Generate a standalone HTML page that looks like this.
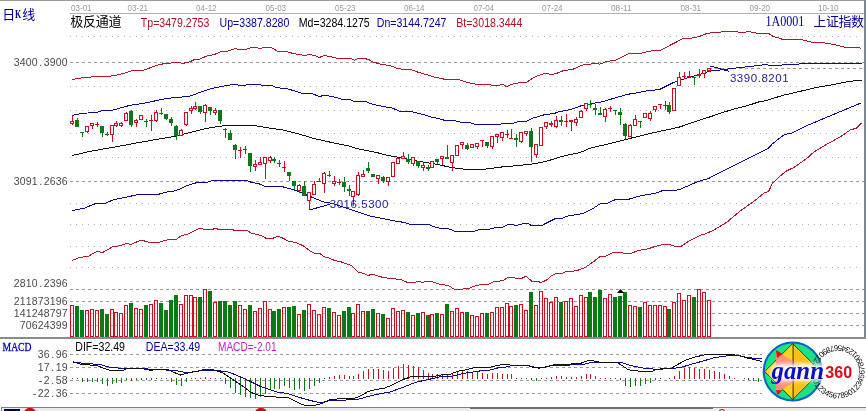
<!DOCTYPE html><html><head><meta charset="utf-8"><title>chart</title><style>html,body{margin:0;padding:0;background:#fff;width:866px;height:411px;overflow:hidden}</style></head><body><svg width="866" height="411" viewBox="0 0 866 411" style="position:absolute;left:0;top:0;filter:blur(0.35px)">
<rect width="866" height="411" fill="#fff"/>
<g shape-rendering="crispEdges">
<rect x="0" y="0" width="866" height="1" fill="#9a9a9a"/>
<rect x="70" y="13" width="794" height="1" fill="#b0b0b0"/>
<rect x="864" y="0" width="2" height="338" fill="#7a8894"/>
<rect x="0" y="337" width="866" height="2" fill="#8a8a8a"/>
<rect x="1" y="407" width="865" height="4" fill="#ececec"/>
<rect x="1" y="407" width="865" height="1" fill="#808080"/>
<rect x="1" y="407" width="1" height="4" fill="#808080"/>
<rect x="470" y="407" width="243" height="2" fill="#707070"/>
<rect x="4" y="409" width="16" height="2" fill="#000040"/>
</g>
<circle cx="30" cy="414" r="6.3" fill="#e00000"/><circle cx="261" cy="414" r="6.3" fill="#e00000"/><circle cx="722" cy="412.5" r="3" fill="none" stroke="#c00000" stroke-width="1"/>
<g shape-rendering="crispEdges">
<line x1="70" x2="862" y1="36.5" y2="36.5" stroke="#b0b0b4" stroke-width="1" stroke-dasharray="1 5"/>
<line x1="70" x2="862" y1="86.5" y2="86.5" stroke="#b0b0b4" stroke-width="1" stroke-dasharray="1 5"/>
<line x1="70" x2="862" y1="110.5" y2="110.5" stroke="#b0b0b4" stroke-width="1" stroke-dasharray="1 5"/>
<line x1="70" x2="862" y1="133.5" y2="133.5" stroke="#b0b0b4" stroke-width="1" stroke-dasharray="1 5"/>
<line x1="70" x2="862" y1="157.5" y2="157.5" stroke="#b0b0b4" stroke-width="1" stroke-dasharray="1 5"/>
<line x1="70" x2="862" y1="203.5" y2="203.5" stroke="#b0b0b4" stroke-width="1" stroke-dasharray="1 5"/>
<line x1="70" x2="862" y1="224.5" y2="224.5" stroke="#b0b0b4" stroke-width="1" stroke-dasharray="1 5"/>
<line x1="70" x2="862" y1="246.5" y2="246.5" stroke="#b0b0b4" stroke-width="1" stroke-dasharray="1 5"/>
<line x1="70" x2="862" y1="267.5" y2="267.5" stroke="#b0b0b4" stroke-width="1" stroke-dasharray="1 5"/>
<line x1="70" x2="864" y1="62.5" y2="62.5" stroke="#989898" stroke-width="1" stroke-dasharray="3 3"/>
<line x1="70" x2="864" y1="181.5" y2="181.5" stroke="#989898" stroke-width="1" stroke-dasharray="3 3"/>
<line x1="70" x2="864" y1="289.5" y2="289.5" stroke="#989898" stroke-width="1" stroke-dasharray="3 3"/>
<line x1="70" x2="864" y1="301.5" y2="301.5" stroke="#989898" stroke-width="1" stroke-dasharray="3 3"/>
<line x1="70" x2="864" y1="354.5" y2="354.5" stroke="#989898" stroke-width="1" stroke-dasharray="3 3"/>
<line x1="70" x2="864" y1="367.5" y2="367.5" stroke="#989898" stroke-width="1" stroke-dasharray="3 3"/>
<line x1="70" x2="864" y1="380.5" y2="380.5" stroke="#989898" stroke-width="1" stroke-dasharray="3 3"/>
<line x1="70" x2="864" y1="393.5" y2="393.5" stroke="#989898" stroke-width="1" stroke-dasharray="3 3"/>
<line x1="712" x2="864" y1="313.5" y2="313.5" stroke="#989898" stroke-width="1" stroke-dasharray="3 3"/>
<line x1="712" x2="864" y1="325.5" y2="325.5" stroke="#989898" stroke-width="1" stroke-dasharray="3 3"/>
<line x1="709" x2="864" y1="68.5" y2="68.5" stroke="#989898" stroke-width="1" stroke-dasharray="3 3"/>
</g>
<polyline fill="none" stroke="#b01828" stroke-width="1.0" shape-rendering="crispEdges"  points="72.2,79.4 84.7,77.4 99.7,76.5 113.4,75.9 124.6,73.2 133.3,70.3 143.3,70.3 153.3,66.6 160.8,64.1 168.2,63.7 174.0,62.4 179.0,62.4 182.7,63.4 190.2,61.8 194.0,59.7 200.2,59.0 206.4,56.2 213.9,54.7 221.4,51.5 227.6,51.2 235.1,48.5 238.8,49.4 246.3,49.4 251.3,47.5 256.3,47.5 260.0,48.5 263.8,47.5 271.3,47.5 277.5,51.2 282.0,51.3 287.0,51.6 293.2,53.5 304.4,55.4 309.4,54.5 314.4,55.4 319.4,57.5 324.4,55.4 331.9,57.0 338.1,58.5 350.6,58.5 354.3,60.3 358.1,58.5 368.0,59.1 373.0,62.0 381.8,64.5 390.0,65.6 397.5,68.5 402.5,69.3 410.0,69.3 418.7,72.4 427.4,74.9 434.9,77.2 444.9,79.3 458.6,79.3 464.8,81.8 476.0,84.3 488.5,84.3 492.2,85.5 498.0,85.5 503.0,84.3 506.7,86.8 511.7,84.3 520.4,82.4 526.7,82.2 534.2,77.2 540.4,74.7 546.6,73.1 551.6,74.7 556.6,73.4 562.8,70.9 574.1,68.9 581.5,65.2 589.0,64.3 596.5,63.1 599.6,64.3 606.0,61.6 616.0,60.2 628.4,53.9 642.2,53.0 648.4,51.2 660.9,50.2 670.8,44.9 683.3,38.5 690.8,38.4 700.0,36.2 706.2,33.7 712.4,32.5 719.9,32.5 723.7,31.2 736.1,31.2 738.6,32.5 744.9,32.5 747.4,31.2 751.1,32.1 757.3,33.3 768.6,33.4 773.0,36.3 779.8,38.3 782.3,39.4 800.4,39.4 811.6,42.2 822.8,42.7 832.8,44.3 845.3,47.4 857.8,47.4 861.5,48.4"/>
<polyline fill="none" stroke="#b01828" stroke-width="1.0" shape-rendering="crispEdges"  points="72.2,260.5 79.7,257.4 88.4,256.2 97.2,251.2 102.2,252.7 113.4,246.4 119.6,245.9 127.1,243.1 130.8,244.7 140.8,240.0 149.5,242.4 158.3,242.4 169.5,239.3 174.0,239.5 176.5,239.3 181.5,235.6 187.7,234.3 194.0,230.9 200.2,228.1 203.9,229.3 212.7,229.3 215.1,228.5 218.9,229.3 232.6,229.3 233.9,230.2 246.3,230.2 251.3,233.1 261.3,235.6 266.3,238.4 272.5,238.4 277.5,236.4 282.0,237.7 288.2,241.0 295.7,242.6 303.2,245.7 310.7,251.3 314.4,253.2 319.4,253.2 324.4,256.9 329.4,258.2 334.4,260.4 340.6,261.7 351.8,265.7 358.1,271.9 364.3,273.8 368.0,275.4 373.0,274.1 379.3,276.6 390.0,278.6 400.0,279.3 407.5,282.4 414.9,282.4 418.7,281.2 422.4,282.4 427.4,281.2 431.1,281.4 439.9,284.3 448.6,285.5 452.3,288.0 454.8,289.3 459.8,289.3 468.6,288.4 477.3,285.1 488.5,284.3 493.5,281.8 498.0,281.1 503.0,280.9 508.0,277.2 513.0,277.2 515.5,278.4 521.7,278.4 526.0,276.2 531.7,281.1 537.9,281.4 541.0,282.6 546.6,280.1 551.6,275.5 556.6,273.4 562.8,273.0 566.6,271.2 572.8,271.2 579.0,269.9 585.3,267.4 592.8,262.2 600.2,256.5 606.0,256.1 613.5,252.4 619.7,252.2 624.7,253.4 630.9,253.4 638.4,250.5 648.4,248.7 655.9,246.2 664.6,244.3 669.6,244.3 674.6,246.4 680.8,246.4 689.5,240.6 699.5,235.6 705.7,233.7 713.5,230.3 727.4,221.8 739.9,211.2 752.3,202.4 758.0,198.0 763.6,193.3 768.6,191.4 772.5,183.2 776.0,180.0 780.2,176.0 785.6,171.5 794.5,167.1 802.9,161.2 808.0,157.4 814.1,151.8 827.8,143.7 840.3,136.8 850.3,130.0 856.5,128.1 861.5,123.1"/>
<polyline fill="none" stroke="#0a0a90" stroke-width="1.0" shape-rendering="crispEdges"  points="72.5,115.3 82.2,113.5 98.4,112.0 102.2,110.3 113.4,110.0 129.6,105.4 145.8,102.9 163.3,99.1 174.0,97.6 184.0,96.9 190.2,96.0 203.9,91.0 211.4,88.6 223.9,86.1 233.9,84.3 238.8,85.1 245.1,85.1 250.1,84.3 256.3,84.3 261.3,85.1 271.3,85.1 276.2,87.4 282.0,88.4 287.0,88.6 294.5,90.9 302.0,93.4 311.9,93.6 319.4,96.5 324.4,95.3 331.9,96.5 342.5,99.3 350.0,99.3 353.7,101.2 364.9,101.2 372.4,104.3 384.9,106.8 392.3,108.1 399.8,111.2 409.8,111.2 424.8,114.9 429.8,116.8 438.0,118.4 445.5,120.6 454.2,120.6 462.9,122.7 470.4,122.7 475.4,124.7 499.1,124.7 502.8,123.4 512.8,123.4 519.0,121.4 526.5,121.2 532.8,118.1 537.8,116.8 546.0,114.2 553.5,113.8 558.5,111.9 570.9,109.4 580.9,105.9 593.4,103.2 602.1,101.9 610.8,99.2 620.8,96.3 628.3,94.2 638.3,92.6 648.2,90.5 654.0,90.1 660.0,89.3 672.5,83.0 685.0,78.7 697.4,75.0 709.9,71.2 722.3,69.7 734.8,68.1 747.3,66.8 758.0,65.5 765.5,64.6 771.7,65.5 790.0,64.6 815.0,63.0 861.5,63.0"/>
<polyline fill="none" stroke="#0a0a90" stroke-width="1.0" shape-rendering="crispEdges"  points="72.2,210.5 84.7,208.0 95.9,203.4 105.9,203.0 113.4,199.7 125.9,197.2 139.6,194.3 158.3,194.3 168.2,191.8 174.0,191.0 179.0,189.3 186.5,185.9 196.4,182.7 207.7,182.2 213.9,180.2 246.3,180.2 251.3,182.4 258.8,183.7 265.0,186.4 282.0,186.6 294.5,190.0 309.5,196.2 323.0,201.8 333.4,203.7 342.0,206.8 355.9,211.2 370.8,216.2 392.0,220.5 404.0,222.4 411.5,224.7 429.0,224.7 434.0,226.8 440.2,228.4 447.6,228.4 455.1,231.4 473.8,231.4 480.1,229.3 488.8,229.3 496.3,227.4 502.5,227.2 507.5,224.7 512.0,224.4 515.7,225.5 524.5,223.4 527.6,223.4 530.7,225.1 542.5,225.1 555.6,218.4 561.9,218.4 566.9,216.2 583.1,213.4 591.8,209.3 600.5,203.5 606.8,203.5 615.5,199.5 627.5,199.6 638.7,196.2 656.2,193.0 663.6,190.2 676.1,190.2 681.1,188.9 697.3,181.8 708.5,178.5 719.8,172.5 731.2,166.8 747.4,158.7 758.0,153.4 768.6,148.1 772.3,143.9 784.5,134.4 792.0,133.1 806.0,126.0 832.8,114.7 861.5,102.8"/>
<polyline fill="none" stroke="#101010" stroke-width="1.0" shape-rendering="crispEdges"  points="72.2,155.5 91.0,151.2 115.9,146.8 140.8,142.2 160.8,138.7 174.0,136.5 186.5,133.4 205.2,128.7 217.6,126.5 228.9,125.3 252.5,125.3 263.8,127.2 282.0,129.8 300.0,134.3 312.5,138.1 331.2,142.4 349.9,146.2 357.4,148.7 377.3,152.7 387.3,155.3 402.7,158.1 421.4,161.8 436.4,164.3 452.6,167.7 465.0,169.3 477.0,169.5 488.0,168.9 503.0,166.8 519.2,165.5 534.1,163.7 546.6,161.2 562.8,156.2 580.3,152.5 590.2,148.1 596.0,146.8 612.4,143.0 629.9,138.4 654.8,132.4 670.0,129.2 680.0,126.9 691.2,122.8 709.9,116.9 722.3,112.6 734.8,108.8 747.3,105.7 759.8,101.6 765.5,100.7 783.0,95.3 799.0,91.6 816.6,87.5 832.8,84.7 850.3,81.2 861.5,80.4"/>
<g shape-rendering="crispEdges">
<rect x="70.5" y="305.5" width="3" height="31" fill="#fff6f6" stroke="#d00a20" stroke-width="1"/>
<rect x="71" y="313" width="2" height="1" fill="#ffa8a8"/>
<rect x="71" y="325" width="2" height="1" fill="#ffa8a8"/>
<rect x="75" y="306" width="4" height="31" fill="#0a7a14"/>
<rect x="80" y="310" width="4" height="27" fill="#0a7a14"/>
<rect x="85.5" y="310.5" width="3" height="26" fill="#fff6f6" stroke="#d00a20" stroke-width="1"/>
<rect x="86" y="313" width="2" height="1" fill="#ffa8a8"/>
<rect x="86" y="325" width="2" height="1" fill="#ffa8a8"/>
<rect x="90.5" y="309.5" width="3" height="27" fill="#fff6f6" stroke="#d00a20" stroke-width="1"/>
<rect x="91" y="313" width="2" height="1" fill="#ffa8a8"/>
<rect x="91" y="325" width="2" height="1" fill="#ffa8a8"/>
<rect x="95.5" y="310.5" width="3" height="26" fill="#fff6f6" stroke="#d00a20" stroke-width="1"/>
<rect x="96" y="313" width="2" height="1" fill="#ffa8a8"/>
<rect x="96" y="325" width="2" height="1" fill="#ffa8a8"/>
<rect x="100" y="309" width="4" height="28" fill="#0a7a14"/>
<rect x="105" y="314" width="4" height="23" fill="#0a7a14"/>
<rect x="110.5" y="309.5" width="3" height="27" fill="#fff6f6" stroke="#d00a20" stroke-width="1"/>
<rect x="111" y="313" width="2" height="1" fill="#ffa8a8"/>
<rect x="111" y="325" width="2" height="1" fill="#ffa8a8"/>
<rect x="114.5" y="312.5" width="3" height="24" fill="#fff6f6" stroke="#d00a20" stroke-width="1"/>
<rect x="115" y="325" width="2" height="1" fill="#ffa8a8"/>
<rect x="119.5" y="313.5" width="3" height="23" fill="#fff6f6" stroke="#d00a20" stroke-width="1"/>
<rect x="120" y="325" width="2" height="1" fill="#ffa8a8"/>
<rect x="124.5" y="305.5" width="3" height="31" fill="#fff6f6" stroke="#d00a20" stroke-width="1"/>
<rect x="125" y="313" width="2" height="1" fill="#ffa8a8"/>
<rect x="125" y="325" width="2" height="1" fill="#ffa8a8"/>
<rect x="129" y="303" width="4" height="34" fill="#0a7a14"/>
<rect x="134.5" y="308.5" width="3" height="28" fill="#fff6f6" stroke="#d00a20" stroke-width="1"/>
<rect x="135" y="313" width="2" height="1" fill="#ffa8a8"/>
<rect x="135" y="325" width="2" height="1" fill="#ffa8a8"/>
<rect x="139.5" y="309.5" width="3" height="27" fill="#fff6f6" stroke="#d00a20" stroke-width="1"/>
<rect x="140" y="313" width="2" height="1" fill="#ffa8a8"/>
<rect x="140" y="325" width="2" height="1" fill="#ffa8a8"/>
<rect x="144" y="305" width="4" height="32" fill="#0a7a14"/>
<rect x="149.5" y="304.5" width="3" height="32" fill="#fff6f6" stroke="#d00a20" stroke-width="1"/>
<rect x="150" y="313" width="2" height="1" fill="#ffa8a8"/>
<rect x="150" y="325" width="2" height="1" fill="#ffa8a8"/>
<rect x="154.5" y="300.5" width="3" height="36" fill="#fff6f6" stroke="#d00a20" stroke-width="1"/>
<rect x="155" y="313" width="2" height="1" fill="#ffa8a8"/>
<rect x="155" y="325" width="2" height="1" fill="#ffa8a8"/>
<rect x="159" y="303" width="4" height="34" fill="#0a7a14"/>
<rect x="164" y="310" width="4" height="27" fill="#0a7a14"/>
<rect x="169" y="300" width="4" height="37" fill="#0a7a14"/>
<rect x="174" y="295" width="4" height="42" fill="#0a7a14"/>
<rect x="179.5" y="304.5" width="3" height="32" fill="#fff6f6" stroke="#d00a20" stroke-width="1"/>
<rect x="180" y="313" width="2" height="1" fill="#ffa8a8"/>
<rect x="180" y="325" width="2" height="1" fill="#ffa8a8"/>
<rect x="184.5" y="295.5" width="3" height="41" fill="#fff6f6" stroke="#d00a20" stroke-width="1"/>
<rect x="185" y="301" width="2" height="1" fill="#ffa8a8"/>
<rect x="185" y="313" width="2" height="1" fill="#ffa8a8"/>
<rect x="185" y="325" width="2" height="1" fill="#ffa8a8"/>
<rect x="189.5" y="295.5" width="3" height="41" fill="#fff6f6" stroke="#d00a20" stroke-width="1"/>
<rect x="190" y="301" width="2" height="1" fill="#ffa8a8"/>
<rect x="190" y="313" width="2" height="1" fill="#ffa8a8"/>
<rect x="190" y="325" width="2" height="1" fill="#ffa8a8"/>
<rect x="193.5" y="297.5" width="3" height="39" fill="#fff6f6" stroke="#d00a20" stroke-width="1"/>
<rect x="194" y="301" width="2" height="1" fill="#ffa8a8"/>
<rect x="194" y="313" width="2" height="1" fill="#ffa8a8"/>
<rect x="194" y="325" width="2" height="1" fill="#ffa8a8"/>
<rect x="198" y="297" width="4" height="40" fill="#0a7a14"/>
<rect x="203.5" y="289.5" width="3" height="47" fill="#fff6f6" stroke="#d00a20" stroke-width="1"/>
<rect x="204" y="301" width="2" height="1" fill="#ffa8a8"/>
<rect x="204" y="313" width="2" height="1" fill="#ffa8a8"/>
<rect x="204" y="325" width="2" height="1" fill="#ffa8a8"/>
<rect x="208" y="291" width="4" height="46" fill="#0a7a14"/>
<rect x="213.5" y="302.5" width="3" height="34" fill="#fff6f6" stroke="#d00a20" stroke-width="1"/>
<rect x="214" y="313" width="2" height="1" fill="#ffa8a8"/>
<rect x="214" y="325" width="2" height="1" fill="#ffa8a8"/>
<rect x="218" y="301" width="4" height="36" fill="#0a7a14"/>
<rect x="223" y="301" width="4" height="36" fill="#0a7a14"/>
<rect x="228" y="305" width="4" height="32" fill="#0a7a14"/>
<rect x="233" y="301" width="4" height="36" fill="#0a7a14"/>
<rect x="238.5" y="305.5" width="3" height="31" fill="#fff6f6" stroke="#d00a20" stroke-width="1"/>
<rect x="239" y="313" width="2" height="1" fill="#ffa8a8"/>
<rect x="239" y="325" width="2" height="1" fill="#ffa8a8"/>
<rect x="243.5" y="309.5" width="3" height="27" fill="#fff6f6" stroke="#d00a20" stroke-width="1"/>
<rect x="244" y="313" width="2" height="1" fill="#ffa8a8"/>
<rect x="244" y="325" width="2" height="1" fill="#ffa8a8"/>
<rect x="248" y="305" width="4" height="32" fill="#0a7a14"/>
<rect x="253.5" y="311.5" width="3" height="25" fill="#fff6f6" stroke="#d00a20" stroke-width="1"/>
<rect x="254" y="313" width="2" height="1" fill="#ffa8a8"/>
<rect x="254" y="325" width="2" height="1" fill="#ffa8a8"/>
<rect x="258.5" y="308.5" width="3" height="28" fill="#fff6f6" stroke="#d00a20" stroke-width="1"/>
<rect x="259" y="313" width="2" height="1" fill="#ffa8a8"/>
<rect x="259" y="325" width="2" height="1" fill="#ffa8a8"/>
<rect x="263.5" y="301.5" width="3" height="35" fill="#fff6f6" stroke="#d00a20" stroke-width="1"/>
<rect x="264" y="313" width="2" height="1" fill="#ffa8a8"/>
<rect x="264" y="325" width="2" height="1" fill="#ffa8a8"/>
<rect x="268.5" y="309.5" width="3" height="27" fill="#fff6f6" stroke="#d00a20" stroke-width="1"/>
<rect x="269" y="313" width="2" height="1" fill="#ffa8a8"/>
<rect x="269" y="325" width="2" height="1" fill="#ffa8a8"/>
<rect x="272" y="311" width="4" height="26" fill="#0a7a14"/>
<rect x="277" y="309" width="4" height="28" fill="#0a7a14"/>
<rect x="282.5" y="307.5" width="3" height="29" fill="#fff6f6" stroke="#d00a20" stroke-width="1"/>
<rect x="283" y="313" width="2" height="1" fill="#ffa8a8"/>
<rect x="283" y="325" width="2" height="1" fill="#ffa8a8"/>
<rect x="287" y="307" width="4" height="30" fill="#0a7a14"/>
<rect x="292" y="306" width="4" height="31" fill="#0a7a14"/>
<rect x="297.5" y="314.5" width="3" height="22" fill="#fff6f6" stroke="#d00a20" stroke-width="1"/>
<rect x="298" y="325" width="2" height="1" fill="#ffa8a8"/>
<rect x="302" y="310" width="4" height="27" fill="#0a7a14"/>
<rect x="307.5" y="304.5" width="3" height="32" fill="#fff6f6" stroke="#d00a20" stroke-width="1"/>
<rect x="308" y="313" width="2" height="1" fill="#ffa8a8"/>
<rect x="308" y="325" width="2" height="1" fill="#ffa8a8"/>
<rect x="312.5" y="310.5" width="3" height="26" fill="#fff6f6" stroke="#d00a20" stroke-width="1"/>
<rect x="313" y="313" width="2" height="1" fill="#ffa8a8"/>
<rect x="313" y="325" width="2" height="1" fill="#ffa8a8"/>
<rect x="317.5" y="314.5" width="3" height="22" fill="#fff6f6" stroke="#d00a20" stroke-width="1"/>
<rect x="318" y="325" width="2" height="1" fill="#ffa8a8"/>
<rect x="322.5" y="307.5" width="3" height="29" fill="#fff6f6" stroke="#d00a20" stroke-width="1"/>
<rect x="323" y="313" width="2" height="1" fill="#ffa8a8"/>
<rect x="323" y="325" width="2" height="1" fill="#ffa8a8"/>
<rect x="327" y="308" width="4" height="29" fill="#0a7a14"/>
<rect x="332.5" y="312.5" width="3" height="24" fill="#fff6f6" stroke="#d00a20" stroke-width="1"/>
<rect x="333" y="325" width="2" height="1" fill="#ffa8a8"/>
<rect x="337.5" y="315.5" width="3" height="21" fill="#fff6f6" stroke="#d00a20" stroke-width="1"/>
<rect x="338" y="325" width="2" height="1" fill="#ffa8a8"/>
<rect x="342" y="311" width="4" height="26" fill="#0a7a14"/>
<rect x="347" y="307" width="4" height="30" fill="#0a7a14"/>
<rect x="351.5" y="313.5" width="3" height="23" fill="#fff6f6" stroke="#d00a20" stroke-width="1"/>
<rect x="352" y="325" width="2" height="1" fill="#ffa8a8"/>
<rect x="356.5" y="304.5" width="3" height="32" fill="#fff6f6" stroke="#d00a20" stroke-width="1"/>
<rect x="357" y="313" width="2" height="1" fill="#ffa8a8"/>
<rect x="357" y="325" width="2" height="1" fill="#ffa8a8"/>
<rect x="361.5" y="311.5" width="3" height="25" fill="#fff6f6" stroke="#d00a20" stroke-width="1"/>
<rect x="362" y="313" width="2" height="1" fill="#ffa8a8"/>
<rect x="362" y="325" width="2" height="1" fill="#ffa8a8"/>
<rect x="366" y="311" width="4" height="26" fill="#0a7a14"/>
<rect x="371" y="309" width="4" height="28" fill="#0a7a14"/>
<rect x="376.5" y="313.5" width="3" height="23" fill="#fff6f6" stroke="#d00a20" stroke-width="1"/>
<rect x="377" y="325" width="2" height="1" fill="#ffa8a8"/>
<rect x="381" y="314" width="4" height="23" fill="#0a7a14"/>
<rect x="386.5" y="318.5" width="3" height="18" fill="#fff6f6" stroke="#d00a20" stroke-width="1"/>
<rect x="387" y="325" width="2" height="1" fill="#ffa8a8"/>
<rect x="391.5" y="308.5" width="3" height="28" fill="#fff6f6" stroke="#d00a20" stroke-width="1"/>
<rect x="392" y="313" width="2" height="1" fill="#ffa8a8"/>
<rect x="392" y="325" width="2" height="1" fill="#ffa8a8"/>
<rect x="396.5" y="311.5" width="3" height="25" fill="#fff6f6" stroke="#d00a20" stroke-width="1"/>
<rect x="397" y="313" width="2" height="1" fill="#ffa8a8"/>
<rect x="397" y="325" width="2" height="1" fill="#ffa8a8"/>
<rect x="401.5" y="310.5" width="3" height="26" fill="#fff6f6" stroke="#d00a20" stroke-width="1"/>
<rect x="402" y="313" width="2" height="1" fill="#ffa8a8"/>
<rect x="402" y="325" width="2" height="1" fill="#ffa8a8"/>
<rect x="406" y="312" width="4" height="25" fill="#0a7a14"/>
<rect x="411.5" y="315.5" width="3" height="21" fill="#fff6f6" stroke="#d00a20" stroke-width="1"/>
<rect x="412" y="325" width="2" height="1" fill="#ffa8a8"/>
<rect x="416" y="313" width="4" height="24" fill="#0a7a14"/>
<rect x="421.5" y="312.5" width="3" height="24" fill="#fff6f6" stroke="#d00a20" stroke-width="1"/>
<rect x="422" y="325" width="2" height="1" fill="#ffa8a8"/>
<rect x="426" y="315" width="4" height="22" fill="#0a7a14"/>
<rect x="430.5" y="314.5" width="3" height="22" fill="#fff6f6" stroke="#d00a20" stroke-width="1"/>
<rect x="431" y="325" width="2" height="1" fill="#ffa8a8"/>
<rect x="435" y="313" width="4" height="24" fill="#0a7a14"/>
<rect x="440.5" y="314.5" width="3" height="22" fill="#fff6f6" stroke="#d00a20" stroke-width="1"/>
<rect x="441" y="325" width="2" height="1" fill="#ffa8a8"/>
<rect x="445" y="304" width="4" height="33" fill="#0a7a14"/>
<rect x="450.5" y="311.5" width="3" height="25" fill="#fff6f6" stroke="#d00a20" stroke-width="1"/>
<rect x="451" y="313" width="2" height="1" fill="#ffa8a8"/>
<rect x="451" y="325" width="2" height="1" fill="#ffa8a8"/>
<rect x="455.5" y="308.5" width="3" height="28" fill="#fff6f6" stroke="#d00a20" stroke-width="1"/>
<rect x="456" y="313" width="2" height="1" fill="#ffa8a8"/>
<rect x="456" y="325" width="2" height="1" fill="#ffa8a8"/>
<rect x="460.5" y="312.5" width="3" height="24" fill="#fff6f6" stroke="#d00a20" stroke-width="1"/>
<rect x="461" y="325" width="2" height="1" fill="#ffa8a8"/>
<rect x="465" y="312" width="4" height="25" fill="#0a7a14"/>
<rect x="470.5" y="315.5" width="3" height="21" fill="#fff6f6" stroke="#d00a20" stroke-width="1"/>
<rect x="471" y="325" width="2" height="1" fill="#ffa8a8"/>
<rect x="475.5" y="316.5" width="3" height="20" fill="#fff6f6" stroke="#d00a20" stroke-width="1"/>
<rect x="476" y="325" width="2" height="1" fill="#ffa8a8"/>
<rect x="480.5" y="313.5" width="3" height="23" fill="#fff6f6" stroke="#d00a20" stroke-width="1"/>
<rect x="481" y="325" width="2" height="1" fill="#ffa8a8"/>
<rect x="485" y="313" width="4" height="24" fill="#0a7a14"/>
<rect x="490.5" y="312.5" width="3" height="24" fill="#fff6f6" stroke="#d00a20" stroke-width="1"/>
<rect x="491" y="325" width="2" height="1" fill="#ffa8a8"/>
<rect x="495.5" y="307.5" width="3" height="29" fill="#fff6f6" stroke="#d00a20" stroke-width="1"/>
<rect x="496" y="313" width="2" height="1" fill="#ffa8a8"/>
<rect x="496" y="325" width="2" height="1" fill="#ffa8a8"/>
<rect x="500.5" y="307.5" width="3" height="29" fill="#fff6f6" stroke="#d00a20" stroke-width="1"/>
<rect x="501" y="313" width="2" height="1" fill="#ffa8a8"/>
<rect x="501" y="325" width="2" height="1" fill="#ffa8a8"/>
<rect x="505.5" y="303.5" width="3" height="33" fill="#fff6f6" stroke="#d00a20" stroke-width="1"/>
<rect x="506" y="313" width="2" height="1" fill="#ffa8a8"/>
<rect x="506" y="325" width="2" height="1" fill="#ffa8a8"/>
<rect x="509.5" y="306.5" width="3" height="30" fill="#fff6f6" stroke="#d00a20" stroke-width="1"/>
<rect x="510" y="313" width="2" height="1" fill="#ffa8a8"/>
<rect x="510" y="325" width="2" height="1" fill="#ffa8a8"/>
<rect x="514" y="305" width="4" height="32" fill="#0a7a14"/>
<rect x="519.5" y="304.5" width="3" height="32" fill="#fff6f6" stroke="#d00a20" stroke-width="1"/>
<rect x="520" y="313" width="2" height="1" fill="#ffa8a8"/>
<rect x="520" y="325" width="2" height="1" fill="#ffa8a8"/>
<rect x="524.5" y="310.5" width="3" height="26" fill="#fff6f6" stroke="#d00a20" stroke-width="1"/>
<rect x="525" y="313" width="2" height="1" fill="#ffa8a8"/>
<rect x="525" y="325" width="2" height="1" fill="#ffa8a8"/>
<rect x="529" y="292" width="4" height="45" fill="#0a7a14"/>
<rect x="534.5" y="305.5" width="3" height="31" fill="#fff6f6" stroke="#d00a20" stroke-width="1"/>
<rect x="535" y="313" width="2" height="1" fill="#ffa8a8"/>
<rect x="535" y="325" width="2" height="1" fill="#ffa8a8"/>
<rect x="539.5" y="291.5" width="3" height="45" fill="#fff6f6" stroke="#d00a20" stroke-width="1"/>
<rect x="540" y="301" width="2" height="1" fill="#ffa8a8"/>
<rect x="540" y="313" width="2" height="1" fill="#ffa8a8"/>
<rect x="540" y="325" width="2" height="1" fill="#ffa8a8"/>
<rect x="544.5" y="298.5" width="3" height="38" fill="#fff6f6" stroke="#d00a20" stroke-width="1"/>
<rect x="545" y="301" width="2" height="1" fill="#ffa8a8"/>
<rect x="545" y="313" width="2" height="1" fill="#ffa8a8"/>
<rect x="545" y="325" width="2" height="1" fill="#ffa8a8"/>
<rect x="549.5" y="302.5" width="3" height="34" fill="#fff6f6" stroke="#d00a20" stroke-width="1"/>
<rect x="550" y="313" width="2" height="1" fill="#ffa8a8"/>
<rect x="550" y="325" width="2" height="1" fill="#ffa8a8"/>
<rect x="554.5" y="297.5" width="3" height="39" fill="#fff6f6" stroke="#d00a20" stroke-width="1"/>
<rect x="555" y="301" width="2" height="1" fill="#ffa8a8"/>
<rect x="555" y="313" width="2" height="1" fill="#ffa8a8"/>
<rect x="555" y="325" width="2" height="1" fill="#ffa8a8"/>
<rect x="559" y="302" width="4" height="35" fill="#0a7a14"/>
<rect x="564.5" y="301.5" width="3" height="35" fill="#fff6f6" stroke="#d00a20" stroke-width="1"/>
<rect x="565" y="313" width="2" height="1" fill="#ffa8a8"/>
<rect x="565" y="325" width="2" height="1" fill="#ffa8a8"/>
<rect x="569.5" y="298.5" width="3" height="38" fill="#fff6f6" stroke="#d00a20" stroke-width="1"/>
<rect x="570" y="301" width="2" height="1" fill="#ffa8a8"/>
<rect x="570" y="313" width="2" height="1" fill="#ffa8a8"/>
<rect x="570" y="325" width="2" height="1" fill="#ffa8a8"/>
<rect x="574.5" y="306.5" width="3" height="30" fill="#fff6f6" stroke="#d00a20" stroke-width="1"/>
<rect x="575" y="313" width="2" height="1" fill="#ffa8a8"/>
<rect x="575" y="325" width="2" height="1" fill="#ffa8a8"/>
<rect x="579.5" y="295.5" width="3" height="41" fill="#fff6f6" stroke="#d00a20" stroke-width="1"/>
<rect x="580" y="301" width="2" height="1" fill="#ffa8a8"/>
<rect x="580" y="313" width="2" height="1" fill="#ffa8a8"/>
<rect x="580" y="325" width="2" height="1" fill="#ffa8a8"/>
<rect x="584.5" y="297.5" width="3" height="39" fill="#fff6f6" stroke="#d00a20" stroke-width="1"/>
<rect x="585" y="301" width="2" height="1" fill="#ffa8a8"/>
<rect x="585" y="313" width="2" height="1" fill="#ffa8a8"/>
<rect x="585" y="325" width="2" height="1" fill="#ffa8a8"/>
<rect x="588" y="292" width="4" height="45" fill="#0a7a14"/>
<rect x="593" y="297" width="4" height="40" fill="#0a7a14"/>
<rect x="598" y="290" width="4" height="47" fill="#0a7a14"/>
<rect x="603.5" y="298.5" width="3" height="38" fill="#fff6f6" stroke="#d00a20" stroke-width="1"/>
<rect x="604" y="301" width="2" height="1" fill="#ffa8a8"/>
<rect x="604" y="313" width="2" height="1" fill="#ffa8a8"/>
<rect x="604" y="325" width="2" height="1" fill="#ffa8a8"/>
<rect x="608.5" y="294.5" width="3" height="42" fill="#fff6f6" stroke="#d00a20" stroke-width="1"/>
<rect x="609" y="301" width="2" height="1" fill="#ffa8a8"/>
<rect x="609" y="313" width="2" height="1" fill="#ffa8a8"/>
<rect x="609" y="325" width="2" height="1" fill="#ffa8a8"/>
<rect x="613" y="297" width="4" height="40" fill="#0a7a14"/>
<rect x="618" y="296" width="4" height="41" fill="#0a7a14"/>
<rect x="623" y="292" width="4" height="45" fill="#0a7a14"/>
<rect x="628.5" y="305.5" width="3" height="31" fill="#fff6f6" stroke="#d00a20" stroke-width="1"/>
<rect x="629" y="313" width="2" height="1" fill="#ffa8a8"/>
<rect x="629" y="325" width="2" height="1" fill="#ffa8a8"/>
<rect x="633.5" y="306.5" width="3" height="30" fill="#fff6f6" stroke="#d00a20" stroke-width="1"/>
<rect x="634" y="313" width="2" height="1" fill="#ffa8a8"/>
<rect x="634" y="325" width="2" height="1" fill="#ffa8a8"/>
<rect x="638" y="307" width="4" height="30" fill="#0a7a14"/>
<rect x="643.5" y="302.5" width="3" height="34" fill="#fff6f6" stroke="#d00a20" stroke-width="1"/>
<rect x="644" y="313" width="2" height="1" fill="#ffa8a8"/>
<rect x="644" y="325" width="2" height="1" fill="#ffa8a8"/>
<rect x="648.5" y="305.5" width="3" height="31" fill="#fff6f6" stroke="#d00a20" stroke-width="1"/>
<rect x="649" y="313" width="2" height="1" fill="#ffa8a8"/>
<rect x="649" y="325" width="2" height="1" fill="#ffa8a8"/>
<rect x="653.5" y="305.5" width="3" height="31" fill="#fff6f6" stroke="#d00a20" stroke-width="1"/>
<rect x="654" y="313" width="2" height="1" fill="#ffa8a8"/>
<rect x="654" y="325" width="2" height="1" fill="#ffa8a8"/>
<rect x="658.5" y="305.5" width="3" height="31" fill="#fff6f6" stroke="#d00a20" stroke-width="1"/>
<rect x="659" y="313" width="2" height="1" fill="#ffa8a8"/>
<rect x="659" y="325" width="2" height="1" fill="#ffa8a8"/>
<rect x="663.5" y="306.5" width="3" height="30" fill="#fff6f6" stroke="#d00a20" stroke-width="1"/>
<rect x="664" y="313" width="2" height="1" fill="#ffa8a8"/>
<rect x="664" y="325" width="2" height="1" fill="#ffa8a8"/>
<rect x="667" y="309" width="4" height="28" fill="#0a7a14"/>
<rect x="672.5" y="302.5" width="3" height="34" fill="#fff6f6" stroke="#d00a20" stroke-width="1"/>
<rect x="673" y="313" width="2" height="1" fill="#ffa8a8"/>
<rect x="673" y="325" width="2" height="1" fill="#ffa8a8"/>
<rect x="677.5" y="293.5" width="3" height="43" fill="#fff6f6" stroke="#d00a20" stroke-width="1"/>
<rect x="678" y="301" width="2" height="1" fill="#ffa8a8"/>
<rect x="678" y="313" width="2" height="1" fill="#ffa8a8"/>
<rect x="678" y="325" width="2" height="1" fill="#ffa8a8"/>
<rect x="682.5" y="300.5" width="3" height="36" fill="#fff6f6" stroke="#d00a20" stroke-width="1"/>
<rect x="683" y="313" width="2" height="1" fill="#ffa8a8"/>
<rect x="683" y="325" width="2" height="1" fill="#ffa8a8"/>
<rect x="687.5" y="295.5" width="3" height="41" fill="#fff6f6" stroke="#d00a20" stroke-width="1"/>
<rect x="688" y="301" width="2" height="1" fill="#ffa8a8"/>
<rect x="688" y="313" width="2" height="1" fill="#ffa8a8"/>
<rect x="688" y="325" width="2" height="1" fill="#ffa8a8"/>
<rect x="692" y="297" width="4" height="40" fill="#0a7a14"/>
<rect x="697.5" y="289.5" width="3" height="47" fill="#fff6f6" stroke="#d00a20" stroke-width="1"/>
<rect x="698" y="301" width="2" height="1" fill="#ffa8a8"/>
<rect x="698" y="313" width="2" height="1" fill="#ffa8a8"/>
<rect x="698" y="325" width="2" height="1" fill="#ffa8a8"/>
<rect x="702.5" y="292.5" width="3" height="44" fill="#fff6f6" stroke="#d00a20" stroke-width="1"/>
<rect x="703" y="301" width="2" height="1" fill="#ffa8a8"/>
<rect x="703" y="313" width="2" height="1" fill="#ffa8a8"/>
<rect x="703" y="325" width="2" height="1" fill="#ffa8a8"/>
<rect x="707.5" y="300.5" width="3" height="36" fill="#fff6f6" stroke="#d00a20" stroke-width="1"/>
<rect x="708" y="313" width="2" height="1" fill="#ffa8a8"/>
<rect x="708" y="325" width="2" height="1" fill="#ffa8a8"/>
</g>
<path d="M620.5 289 L624 293 L617 293Z" fill="#000"/>
<g shape-rendering="crispEdges">
<rect x="72" y="115" width="1" height="6" fill="#d00a20"/>
<rect x="72" y="124" width="1" height="1" fill="#d00a20"/>
<rect x="70.5" y="121.5" width="3" height="2" fill="#fff" stroke="#d00a20" stroke-width="1"/>
<rect x="77" y="118" width="1" height="9" fill="#0a7a14"/>
<rect x="75" y="120" width="4" height="7" fill="#0a7a14"/>
<rect x="82" y="132" width="1" height="5" fill="#0a7a14"/>
<rect x="80" y="132" width="4" height="1" fill="#0a7a14"/>
<rect x="87" y="132" width="1" height="1" fill="#d00a20"/>
<rect x="85.5" y="126.5" width="3" height="5" fill="#fff" stroke="#d00a20" stroke-width="1"/>
<rect x="92" y="126" width="1" height="3" fill="#d00a20"/>
<rect x="90.5" y="123.5" width="3" height="2" fill="#fff" stroke="#d00a20" stroke-width="1"/>
<rect x="97" y="122" width="1" height="5" fill="#d00a20"/>
<rect x="95" y="124" width="4" height="1" fill="#d00a20"/>
<rect x="102" y="126" width="1" height="11" fill="#0a7a14"/>
<rect x="100" y="126" width="4" height="7" fill="#0a7a14"/>
<rect x="107" y="132" width="1" height="4" fill="#0a7a14"/>
<rect x="105" y="134" width="4" height="1" fill="#0a7a14"/>
<rect x="112" y="135" width="1" height="7" fill="#d00a20"/>
<rect x="110.5" y="125.5" width="3" height="9" fill="#fff" stroke="#d00a20" stroke-width="1"/>
<rect x="116" y="121" width="1" height="2" fill="#d00a20"/>
<rect x="116" y="126" width="1" height="1" fill="#d00a20"/>
<rect x="114.5" y="123.5" width="3" height="2" fill="#fff" stroke="#d00a20" stroke-width="1"/>
<rect x="121" y="122" width="1" height="1" fill="#d00a20"/>
<rect x="121" y="126" width="1" height="1" fill="#d00a20"/>
<rect x="119.5" y="123.5" width="3" height="2" fill="#fff" stroke="#d00a20" stroke-width="1"/>
<rect x="126" y="112" width="1" height="1" fill="#d00a20"/>
<rect x="124.5" y="113.5" width="3" height="7" fill="#fff" stroke="#d00a20" stroke-width="1"/>
<rect x="131" y="110" width="1" height="17" fill="#0a7a14"/>
<rect x="129" y="111" width="4" height="14" fill="#0a7a14"/>
<rect x="136" y="119" width="1" height="1" fill="#d00a20"/>
<rect x="136" y="123" width="1" height="4" fill="#d00a20"/>
<rect x="134.5" y="120.5" width="3" height="2" fill="#fff" stroke="#d00a20" stroke-width="1"/>
<rect x="139.5" y="115.5" width="3" height="4" fill="#fff" stroke="#d00a20" stroke-width="1"/>
<rect x="146" y="119" width="1" height="8" fill="#0a7a14"/>
<rect x="144" y="121" width="4" height="1" fill="#0a7a14"/>
<rect x="151" y="115" width="1" height="16" fill="#d00a20"/>
<rect x="149" y="120" width="4" height="1" fill="#d00a20"/>
<rect x="156" y="110" width="1" height="2" fill="#d00a20"/>
<rect x="156" y="121" width="1" height="1" fill="#d00a20"/>
<rect x="154.5" y="112.5" width="3" height="8" fill="#fff" stroke="#d00a20" stroke-width="1"/>
<rect x="161" y="108" width="1" height="7" fill="#0a7a14"/>
<rect x="159" y="113" width="4" height="1" fill="#0a7a14"/>
<rect x="166" y="114" width="1" height="6" fill="#0a7a14"/>
<rect x="164" y="114" width="4" height="5" fill="#0a7a14"/>
<rect x="171" y="117" width="1" height="9" fill="#0a7a14"/>
<rect x="169" y="119" width="4" height="4" fill="#0a7a14"/>
<rect x="176" y="125" width="1" height="15" fill="#0a7a14"/>
<rect x="174" y="126" width="4" height="10" fill="#0a7a14"/>
<rect x="181" y="129" width="1" height="1" fill="#d00a20"/>
<rect x="179.5" y="130.5" width="3" height="5" fill="#fff" stroke="#d00a20" stroke-width="1"/>
<rect x="186" y="125" width="1" height="1" fill="#d00a20"/>
<rect x="184.5" y="112.5" width="3" height="12" fill="#fff" stroke="#d00a20" stroke-width="1"/>
<rect x="191" y="106" width="1" height="2" fill="#d00a20"/>
<rect x="191" y="111" width="1" height="3" fill="#d00a20"/>
<rect x="189.5" y="108.5" width="3" height="2" fill="#fff" stroke="#d00a20" stroke-width="1"/>
<rect x="195" y="102" width="1" height="4" fill="#d00a20"/>
<rect x="195" y="109" width="1" height="1" fill="#d00a20"/>
<rect x="193.5" y="106.5" width="3" height="2" fill="#fff" stroke="#d00a20" stroke-width="1"/>
<rect x="200" y="106" width="1" height="8" fill="#0a7a14"/>
<rect x="198" y="106" width="4" height="6" fill="#0a7a14"/>
<rect x="205" y="104" width="1" height="1" fill="#d00a20"/>
<rect x="205" y="113" width="1" height="9" fill="#d00a20"/>
<rect x="203.5" y="105.5" width="3" height="7" fill="#fff" stroke="#d00a20" stroke-width="1"/>
<rect x="210" y="107" width="1" height="8" fill="#0a7a14"/>
<rect x="208" y="107" width="4" height="4" fill="#0a7a14"/>
<rect x="215" y="108" width="1" height="2" fill="#d00a20"/>
<rect x="215" y="113" width="1" height="2" fill="#d00a20"/>
<rect x="213.5" y="110.5" width="3" height="2" fill="#fff" stroke="#d00a20" stroke-width="1"/>
<rect x="220" y="110" width="1" height="14" fill="#0a7a14"/>
<rect x="218" y="110" width="4" height="11" fill="#0a7a14"/>
<rect x="225" y="128" width="1" height="10" fill="#0a7a14"/>
<rect x="223" y="129" width="4" height="1" fill="#0a7a14"/>
<rect x="230" y="130" width="1" height="10" fill="#0a7a14"/>
<rect x="228" y="133" width="4" height="7" fill="#0a7a14"/>
<rect x="235" y="144" width="1" height="15" fill="#0a7a14"/>
<rect x="233" y="145" width="4" height="5" fill="#0a7a14"/>
<rect x="240" y="147" width="1" height="11" fill="#d00a20"/>
<rect x="238" y="150" width="4" height="1" fill="#d00a20"/>
<rect x="245" y="146" width="1" height="8" fill="#d00a20"/>
<rect x="243" y="149" width="4" height="1" fill="#d00a20"/>
<rect x="250" y="153" width="1" height="19" fill="#0a7a14"/>
<rect x="248" y="153" width="4" height="13" fill="#0a7a14"/>
<rect x="255" y="160" width="1" height="4" fill="#d00a20"/>
<rect x="255" y="167" width="1" height="4" fill="#d00a20"/>
<rect x="253.5" y="164.5" width="3" height="2" fill="#fff" stroke="#d00a20" stroke-width="1"/>
<rect x="260" y="157" width="1" height="5" fill="#d00a20"/>
<rect x="258.5" y="162.5" width="3" height="2" fill="#fff" stroke="#d00a20" stroke-width="1"/>
<rect x="265" y="164" width="1" height="15" fill="#d00a20"/>
<rect x="263.5" y="157.5" width="3" height="6" fill="#fff" stroke="#d00a20" stroke-width="1"/>
<rect x="270" y="156" width="1" height="1" fill="#d00a20"/>
<rect x="270" y="161" width="1" height="2" fill="#d00a20"/>
<rect x="268.5" y="157.5" width="3" height="3" fill="#fff" stroke="#d00a20" stroke-width="1"/>
<rect x="274" y="157" width="1" height="6" fill="#0a7a14"/>
<rect x="272" y="159" width="4" height="2" fill="#0a7a14"/>
<rect x="279" y="160" width="1" height="7" fill="#0a7a14"/>
<rect x="277" y="163" width="4" height="1" fill="#0a7a14"/>
<rect x="284" y="161" width="1" height="11" fill="#d00a20"/>
<rect x="282" y="167" width="4" height="1" fill="#d00a20"/>
<rect x="289" y="172" width="1" height="9" fill="#0a7a14"/>
<rect x="287" y="172" width="4" height="4" fill="#0a7a14"/>
<rect x="294" y="181" width="1" height="9" fill="#0a7a14"/>
<rect x="292" y="181" width="4" height="5" fill="#0a7a14"/>
<rect x="299" y="184" width="1" height="1" fill="#d00a20"/>
<rect x="299" y="191" width="1" height="2" fill="#d00a20"/>
<rect x="297.5" y="185.5" width="3" height="5" fill="#fff" stroke="#d00a20" stroke-width="1"/>
<rect x="304" y="181" width="1" height="15" fill="#0a7a14"/>
<rect x="302" y="186" width="4" height="10" fill="#0a7a14"/>
<rect x="309" y="201" width="1" height="9" fill="#d00a20"/>
<rect x="307.5" y="192.5" width="3" height="8" fill="#fff" stroke="#d00a20" stroke-width="1"/>
<rect x="314" y="181" width="1" height="3" fill="#d00a20"/>
<rect x="312.5" y="184.5" width="3" height="10" fill="#fff" stroke="#d00a20" stroke-width="1"/>
<rect x="319" y="178" width="1" height="4" fill="#d00a20"/>
<rect x="317" y="181" width="4" height="1" fill="#d00a20"/>
<rect x="324" y="172" width="1" height="1" fill="#d00a20"/>
<rect x="324" y="184" width="1" height="9" fill="#d00a20"/>
<rect x="322.5" y="173.5" width="3" height="10" fill="#fff" stroke="#d00a20" stroke-width="1"/>
<rect x="329" y="171" width="1" height="6" fill="#0a7a14"/>
<rect x="327" y="175" width="4" height="1" fill="#0a7a14"/>
<rect x="334" y="176" width="1" height="5" fill="#d00a20"/>
<rect x="334" y="184" width="1" height="2" fill="#d00a20"/>
<rect x="332.5" y="181.5" width="3" height="2" fill="#fff" stroke="#d00a20" stroke-width="1"/>
<rect x="339" y="179" width="1" height="6" fill="#d00a20"/>
<rect x="337" y="182" width="4" height="1" fill="#d00a20"/>
<rect x="344" y="177" width="1" height="15" fill="#0a7a14"/>
<rect x="342" y="182" width="4" height="5" fill="#0a7a14"/>
<rect x="349" y="185" width="1" height="11" fill="#0a7a14"/>
<rect x="347" y="189" width="4" height="2" fill="#0a7a14"/>
<rect x="353" y="197" width="1" height="9" fill="#d00a20"/>
<rect x="351.5" y="191.5" width="3" height="5" fill="#fff" stroke="#d00a20" stroke-width="1"/>
<rect x="358" y="172" width="1" height="3" fill="#d00a20"/>
<rect x="358" y="195" width="1" height="1" fill="#d00a20"/>
<rect x="356.5" y="175.5" width="3" height="19" fill="#fff" stroke="#d00a20" stroke-width="1"/>
<rect x="363" y="170" width="1" height="4" fill="#d00a20"/>
<rect x="361.5" y="174.5" width="3" height="2" fill="#fff" stroke="#d00a20" stroke-width="1"/>
<rect x="368" y="162" width="1" height="11" fill="#0a7a14"/>
<rect x="366" y="168" width="4" height="3" fill="#0a7a14"/>
<rect x="373" y="174" width="1" height="3" fill="#0a7a14"/>
<rect x="371" y="174" width="4" height="3" fill="#0a7a14"/>
<rect x="378" y="179" width="1" height="5" fill="#d00a20"/>
<rect x="376.5" y="175.5" width="3" height="3" fill="#fff" stroke="#d00a20" stroke-width="1"/>
<rect x="383" y="176" width="1" height="7" fill="#0a7a14"/>
<rect x="381" y="177" width="4" height="4" fill="#0a7a14"/>
<rect x="388" y="182" width="1" height="4" fill="#d00a20"/>
<rect x="386.5" y="177.5" width="3" height="4" fill="#fff" stroke="#d00a20" stroke-width="1"/>
<rect x="391.5" y="162.5" width="3" height="14" fill="#fff" stroke="#d00a20" stroke-width="1"/>
<rect x="396.5" y="158.5" width="3" height="5" fill="#fff" stroke="#d00a20" stroke-width="1"/>
<rect x="403" y="152" width="1" height="4" fill="#d00a20"/>
<rect x="401.5" y="156.5" width="3" height="2" fill="#fff" stroke="#d00a20" stroke-width="1"/>
<rect x="408" y="154" width="1" height="10" fill="#0a7a14"/>
<rect x="406" y="159" width="4" height="3" fill="#0a7a14"/>
<rect x="413" y="164" width="1" height="2" fill="#d00a20"/>
<rect x="411.5" y="157.5" width="3" height="6" fill="#fff" stroke="#d00a20" stroke-width="1"/>
<rect x="418" y="161" width="1" height="7" fill="#0a7a14"/>
<rect x="416" y="161" width="4" height="5" fill="#0a7a14"/>
<rect x="423" y="163" width="1" height="2" fill="#d00a20"/>
<rect x="423" y="168" width="1" height="3" fill="#d00a20"/>
<rect x="421.5" y="165.5" width="3" height="2" fill="#fff" stroke="#d00a20" stroke-width="1"/>
<rect x="428" y="165" width="1" height="6" fill="#0a7a14"/>
<rect x="426" y="167" width="4" height="2" fill="#0a7a14"/>
<rect x="430.5" y="161.5" width="3" height="6" fill="#fff" stroke="#d00a20" stroke-width="1"/>
<rect x="437" y="159" width="1" height="5" fill="#0a7a14"/>
<rect x="435" y="159" width="4" height="3" fill="#0a7a14"/>
<rect x="442" y="159" width="1" height="6" fill="#d00a20"/>
<rect x="440.5" y="156.5" width="3" height="2" fill="#fff" stroke="#d00a20" stroke-width="1"/>
<rect x="447" y="145" width="1" height="14" fill="#0a7a14"/>
<rect x="445" y="157" width="4" height="2" fill="#0a7a14"/>
<rect x="452" y="163" width="1" height="8" fill="#d00a20"/>
<rect x="450.5" y="155.5" width="3" height="7" fill="#fff" stroke="#d00a20" stroke-width="1"/>
<rect x="455.5" y="145.5" width="3" height="10" fill="#fff" stroke="#d00a20" stroke-width="1"/>
<rect x="462" y="145" width="1" height="4" fill="#d00a20"/>
<rect x="460.5" y="142.5" width="3" height="2" fill="#fff" stroke="#d00a20" stroke-width="1"/>
<rect x="467" y="143" width="1" height="7" fill="#0a7a14"/>
<rect x="465" y="145" width="4" height="4" fill="#0a7a14"/>
<rect x="470.5" y="144.5" width="3" height="3" fill="#fff" stroke="#d00a20" stroke-width="1"/>
<rect x="477" y="147" width="1" height="2" fill="#d00a20"/>
<rect x="475.5" y="143.5" width="3" height="3" fill="#fff" stroke="#d00a20" stroke-width="1"/>
<rect x="482" y="140" width="1" height="7" fill="#d00a20"/>
<rect x="480" y="140" width="4" height="1" fill="#d00a20"/>
<rect x="487" y="142" width="1" height="6" fill="#0a7a14"/>
<rect x="485" y="142" width="4" height="4" fill="#0a7a14"/>
<rect x="492" y="147" width="1" height="2" fill="#d00a20"/>
<rect x="490.5" y="136.5" width="3" height="10" fill="#fff" stroke="#d00a20" stroke-width="1"/>
<rect x="497" y="137" width="1" height="6" fill="#d00a20"/>
<rect x="495.5" y="134.5" width="3" height="2" fill="#fff" stroke="#d00a20" stroke-width="1"/>
<rect x="502" y="138" width="1" height="3" fill="#d00a20"/>
<rect x="500.5" y="132.5" width="3" height="5" fill="#fff" stroke="#d00a20" stroke-width="1"/>
<rect x="507" y="130" width="1" height="8" fill="#d00a20"/>
<rect x="505" y="134" width="4" height="1" fill="#d00a20"/>
<rect x="511" y="129" width="1" height="10" fill="#d00a20"/>
<rect x="509" y="138" width="4" height="1" fill="#d00a20"/>
<rect x="516" y="134" width="1" height="13" fill="#0a7a14"/>
<rect x="514" y="138" width="4" height="2" fill="#0a7a14"/>
<rect x="521" y="142" width="1" height="1" fill="#d00a20"/>
<rect x="519.5" y="132.5" width="3" height="9" fill="#fff" stroke="#d00a20" stroke-width="1"/>
<rect x="526" y="134" width="1" height="2" fill="#d00a20"/>
<rect x="524.5" y="131.5" width="3" height="2" fill="#fff" stroke="#d00a20" stroke-width="1"/>
<rect x="531" y="128" width="1" height="34" fill="#0a7a14"/>
<rect x="529" y="131" width="4" height="16" fill="#0a7a14"/>
<rect x="536" y="155" width="1" height="3" fill="#d00a20"/>
<rect x="534.5" y="144.5" width="3" height="10" fill="#fff" stroke="#d00a20" stroke-width="1"/>
<rect x="539.5" y="127.5" width="3" height="18" fill="#fff" stroke="#d00a20" stroke-width="1"/>
<rect x="546" y="127" width="1" height="2" fill="#d00a20"/>
<rect x="544.5" y="122.5" width="3" height="4" fill="#fff" stroke="#d00a20" stroke-width="1"/>
<rect x="551" y="121" width="1" height="6" fill="#d00a20"/>
<rect x="549" y="123" width="4" height="2" fill="#d00a20"/>
<rect x="556" y="116" width="1" height="4" fill="#d00a20"/>
<rect x="556" y="127" width="1" height="1" fill="#d00a20"/>
<rect x="554.5" y="120.5" width="3" height="6" fill="#fff" stroke="#d00a20" stroke-width="1"/>
<rect x="561" y="116" width="1" height="10" fill="#0a7a14"/>
<rect x="559" y="120" width="4" height="2" fill="#0a7a14"/>
<rect x="566" y="114" width="1" height="13" fill="#d00a20"/>
<rect x="564" y="121" width="4" height="1" fill="#d00a20"/>
<rect x="571" y="120" width="1" height="11" fill="#d00a20"/>
<rect x="569" y="120" width="4" height="2" fill="#d00a20"/>
<rect x="576" y="117" width="1" height="2" fill="#d00a20"/>
<rect x="576" y="123" width="1" height="3" fill="#d00a20"/>
<rect x="574.5" y="119.5" width="3" height="3" fill="#fff" stroke="#d00a20" stroke-width="1"/>
<rect x="581" y="110" width="1" height="1" fill="#d00a20"/>
<rect x="579.5" y="111.5" width="3" height="6" fill="#fff" stroke="#d00a20" stroke-width="1"/>
<rect x="586" y="109" width="1" height="2" fill="#d00a20"/>
<rect x="584.5" y="103.5" width="3" height="5" fill="#fff" stroke="#d00a20" stroke-width="1"/>
<rect x="590" y="100" width="1" height="8" fill="#0a7a14"/>
<rect x="588" y="104" width="4" height="1" fill="#0a7a14"/>
<rect x="595" y="104" width="1" height="11" fill="#0a7a14"/>
<rect x="593" y="108" width="4" height="2" fill="#0a7a14"/>
<rect x="600" y="107" width="1" height="8" fill="#0a7a14"/>
<rect x="598" y="113" width="4" height="2" fill="#0a7a14"/>
<rect x="605" y="108" width="1" height="1" fill="#d00a20"/>
<rect x="605" y="117" width="1" height="5" fill="#d00a20"/>
<rect x="603.5" y="109.5" width="3" height="7" fill="#fff" stroke="#d00a20" stroke-width="1"/>
<rect x="610" y="106" width="1" height="6" fill="#d00a20"/>
<rect x="608" y="108" width="4" height="1" fill="#d00a20"/>
<rect x="615" y="110" width="1" height="5" fill="#0a7a14"/>
<rect x="613" y="110" width="4" height="1" fill="#0a7a14"/>
<rect x="620" y="108" width="1" height="17" fill="#0a7a14"/>
<rect x="618" y="112" width="4" height="3" fill="#0a7a14"/>
<rect x="625" y="123" width="1" height="16" fill="#0a7a14"/>
<rect x="623" y="124" width="4" height="12" fill="#0a7a14"/>
<rect x="630" y="124" width="1" height="1" fill="#d00a20"/>
<rect x="628.5" y="125.5" width="3" height="11" fill="#fff" stroke="#d00a20" stroke-width="1"/>
<rect x="635" y="115" width="1" height="4" fill="#d00a20"/>
<rect x="633.5" y="119.5" width="3" height="6" fill="#fff" stroke="#d00a20" stroke-width="1"/>
<rect x="640" y="121" width="1" height="7" fill="#0a7a14"/>
<rect x="638" y="121" width="4" height="1" fill="#0a7a14"/>
<rect x="643.5" y="113.5" width="3" height="4" fill="#fff" stroke="#d00a20" stroke-width="1"/>
<rect x="650" y="111" width="1" height="2" fill="#d00a20"/>
<rect x="650" y="119" width="1" height="2" fill="#d00a20"/>
<rect x="648.5" y="113.5" width="3" height="5" fill="#fff" stroke="#d00a20" stroke-width="1"/>
<rect x="655" y="110" width="1" height="2" fill="#d00a20"/>
<rect x="653.5" y="106.5" width="3" height="3" fill="#fff" stroke="#d00a20" stroke-width="1"/>
<rect x="660" y="104" width="1" height="5" fill="#d00a20"/>
<rect x="658" y="104" width="4" height="1" fill="#d00a20"/>
<rect x="665" y="101" width="1" height="9" fill="#d00a20"/>
<rect x="663" y="105" width="4" height="1" fill="#d00a20"/>
<rect x="669" y="102" width="1" height="12" fill="#0a7a14"/>
<rect x="667" y="105" width="4" height="7" fill="#0a7a14"/>
<rect x="672.5" y="88.5" width="3" height="22" fill="#fff" stroke="#d00a20" stroke-width="1"/>
<rect x="679" y="72" width="1" height="5" fill="#d00a20"/>
<rect x="677.5" y="77.5" width="3" height="8" fill="#fff" stroke="#d00a20" stroke-width="1"/>
<rect x="684" y="72" width="1" height="7" fill="#d00a20"/>
<rect x="682" y="76" width="4" height="1" fill="#d00a20"/>
<rect x="689" y="71" width="1" height="7" fill="#d00a20"/>
<rect x="687" y="76" width="4" height="1" fill="#d00a20"/>
<rect x="694" y="77" width="1" height="8" fill="#0a7a14"/>
<rect x="692" y="77" width="4" height="1" fill="#0a7a14"/>
<rect x="699" y="69" width="1" height="9" fill="#d00a20"/>
<rect x="697" y="74" width="4" height="2" fill="#d00a20"/>
<rect x="704" y="74" width="1" height="4" fill="#d00a20"/>
<rect x="702.5" y="70.5" width="3" height="3" fill="#fff" stroke="#d00a20" stroke-width="1"/>
<rect x="709" y="71" width="1" height="1" fill="#d00a20"/>
<rect x="707.5" y="68.5" width="3" height="2" fill="#fff" stroke="#d00a20" stroke-width="1"/>
</g>
<g shape-rendering="crispEdges">
<rect x="72" y="378" width="1" height="1" fill="#0a7a14"/>
<rect x="77" y="378" width="1" height="1" fill="#0a7a14"/>
<rect x="82" y="378" width="1" height="4" fill="#0a7a14"/>
<rect x="87" y="378" width="1" height="4" fill="#0a7a14"/>
<rect x="92" y="378" width="1" height="4" fill="#0a7a14"/>
<rect x="97" y="378" width="1" height="4" fill="#0a7a14"/>
<rect x="102" y="378" width="1" height="6" fill="#0a7a14"/>
<rect x="107" y="378" width="1" height="8" fill="#0a7a14"/>
<rect x="112" y="378" width="1" height="6" fill="#0a7a14"/>
<rect x="116" y="378" width="1" height="5" fill="#0a7a14"/>
<rect x="121" y="378" width="1" height="5" fill="#0a7a14"/>
<rect x="126" y="378" width="1" height="2" fill="#0a7a14"/>
<rect x="131" y="378" width="1" height="3" fill="#0a7a14"/>
<rect x="136" y="378" width="1" height="2" fill="#0a7a14"/>
<rect x="141" y="378" width="1" height="2" fill="#0a7a14"/>
<rect x="146" y="378" width="1" height="2" fill="#0a7a14"/>
<rect x="151" y="378" width="1" height="2" fill="#0a7a14"/>
<rect x="156" y="378" width="1" height="1" fill="#0a7a14"/>
<rect x="161" y="378" width="1" height="1" fill="#0a7a14"/>
<rect x="166" y="378" width="1" height="1" fill="#0a7a14"/>
<rect x="171" y="378" width="1" height="4" fill="#0a7a14"/>
<rect x="176" y="378" width="1" height="7" fill="#0a7a14"/>
<rect x="181" y="378" width="1" height="8" fill="#0a7a14"/>
<rect x="186" y="378" width="1" height="4" fill="#0a7a14"/>
<rect x="191" y="378" width="1" height="1" fill="#0a7a14"/>
<rect x="195" y="378" width="1" height="1" fill="#c8141e"/>
<rect x="200" y="378" width="1" height="1" fill="#c8141e"/>
<rect x="205" y="377" width="1" height="2" fill="#c8141e"/>
<rect x="210" y="378" width="1" height="1" fill="#c8141e"/>
<rect x="215" y="378" width="1" height="1" fill="#c8141e"/>
<rect x="220" y="378" width="1" height="1" fill="#0a7a14"/>
<rect x="225" y="378" width="1" height="6" fill="#0a7a14"/>
<rect x="230" y="378" width="1" height="10" fill="#0a7a14"/>
<rect x="235" y="378" width="1" height="15" fill="#0a7a14"/>
<rect x="240" y="378" width="1" height="17" fill="#0a7a14"/>
<rect x="245" y="378" width="1" height="19" fill="#0a7a14"/>
<rect x="250" y="378" width="1" height="20" fill="#0a7a14"/>
<rect x="255" y="378" width="1" height="21" fill="#0a7a14"/>
<rect x="260" y="378" width="1" height="19" fill="#0a7a14"/>
<rect x="265" y="378" width="1" height="16" fill="#0a7a14"/>
<rect x="270" y="378" width="1" height="12" fill="#0a7a14"/>
<rect x="274" y="378" width="1" height="11" fill="#0a7a14"/>
<rect x="279" y="378" width="1" height="11" fill="#0a7a14"/>
<rect x="284" y="378" width="1" height="8" fill="#0a7a14"/>
<rect x="289" y="378" width="1" height="10" fill="#0a7a14"/>
<rect x="294" y="378" width="1" height="12" fill="#0a7a14"/>
<rect x="299" y="378" width="1" height="11" fill="#0a7a14"/>
<rect x="304" y="378" width="1" height="13" fill="#0a7a14"/>
<rect x="309" y="378" width="1" height="11" fill="#0a7a14"/>
<rect x="314" y="378" width="1" height="8" fill="#0a7a14"/>
<rect x="319" y="378" width="1" height="5" fill="#0a7a14"/>
<rect x="324" y="378" width="1" height="1" fill="#0a7a14"/>
<rect x="329" y="377" width="1" height="2" fill="#c8141e"/>
<rect x="334" y="376" width="1" height="3" fill="#c8141e"/>
<rect x="339" y="375" width="1" height="4" fill="#c8141e"/>
<rect x="344" y="375" width="1" height="4" fill="#c8141e"/>
<rect x="349" y="376" width="1" height="3" fill="#c8141e"/>
<rect x="353" y="376" width="1" height="3" fill="#c8141e"/>
<rect x="358" y="374" width="1" height="5" fill="#c8141e"/>
<rect x="363" y="371" width="1" height="8" fill="#c8141e"/>
<rect x="368" y="369" width="1" height="10" fill="#c8141e"/>
<rect x="373" y="369" width="1" height="10" fill="#c8141e"/>
<rect x="378" y="369" width="1" height="10" fill="#c8141e"/>
<rect x="383" y="370" width="1" height="9" fill="#c8141e"/>
<rect x="388" y="371" width="1" height="8" fill="#c8141e"/>
<rect x="393" y="368" width="1" height="11" fill="#c8141e"/>
<rect x="398" y="366" width="1" height="13" fill="#c8141e"/>
<rect x="403" y="364" width="1" height="15" fill="#c8141e"/>
<rect x="408" y="365" width="1" height="14" fill="#c8141e"/>
<rect x="413" y="366" width="1" height="13" fill="#c8141e"/>
<rect x="418" y="367" width="1" height="12" fill="#c8141e"/>
<rect x="423" y="370" width="1" height="9" fill="#c8141e"/>
<rect x="428" y="373" width="1" height="6" fill="#c8141e"/>
<rect x="432" y="374" width="1" height="5" fill="#c8141e"/>
<rect x="437" y="374" width="1" height="5" fill="#c8141e"/>
<rect x="442" y="374" width="1" height="5" fill="#c8141e"/>
<rect x="447" y="374" width="1" height="5" fill="#c8141e"/>
<rect x="452" y="373" width="1" height="6" fill="#c8141e"/>
<rect x="457" y="372" width="1" height="7" fill="#c8141e"/>
<rect x="462" y="370" width="1" height="9" fill="#c8141e"/>
<rect x="467" y="371" width="1" height="8" fill="#c8141e"/>
<rect x="472" y="372" width="1" height="7" fill="#c8141e"/>
<rect x="477" y="372" width="1" height="7" fill="#c8141e"/>
<rect x="482" y="373" width="1" height="6" fill="#c8141e"/>
<rect x="487" y="374" width="1" height="5" fill="#c8141e"/>
<rect x="492" y="373" width="1" height="6" fill="#c8141e"/>
<rect x="497" y="373" width="1" height="6" fill="#c8141e"/>
<rect x="502" y="374" width="1" height="5" fill="#c8141e"/>
<rect x="507" y="374" width="1" height="5" fill="#c8141e"/>
<rect x="511" y="374" width="1" height="5" fill="#c8141e"/>
<rect x="516" y="378" width="1" height="1" fill="#c8141e"/>
<rect x="521" y="378" width="1" height="1" fill="#c8141e"/>
<rect x="526" y="378" width="1" height="1" fill="#0a7a14"/>
<rect x="531" y="378" width="1" height="2" fill="#0a7a14"/>
<rect x="536" y="378" width="1" height="3" fill="#0a7a14"/>
<rect x="541" y="378" width="1" height="1" fill="#0a7a14"/>
<rect x="546" y="378" width="1" height="1" fill="#c8141e"/>
<rect x="551" y="377" width="1" height="2" fill="#c8141e"/>
<rect x="556" y="376" width="1" height="3" fill="#c8141e"/>
<rect x="561" y="376" width="1" height="3" fill="#c8141e"/>
<rect x="566" y="377" width="1" height="2" fill="#c8141e"/>
<rect x="571" y="377" width="1" height="2" fill="#c8141e"/>
<rect x="576" y="377" width="1" height="2" fill="#c8141e"/>
<rect x="581" y="376" width="1" height="3" fill="#c8141e"/>
<rect x="586" y="374" width="1" height="5" fill="#c8141e"/>
<rect x="590" y="374" width="1" height="5" fill="#c8141e"/>
<rect x="595" y="376" width="1" height="3" fill="#c8141e"/>
<rect x="600" y="378" width="1" height="1" fill="#c8141e"/>
<rect x="605" y="378" width="1" height="1" fill="#c8141e"/>
<rect x="610" y="378" width="1" height="1" fill="#c8141e"/>
<rect x="615" y="378" width="1" height="1" fill="#0a7a14"/>
<rect x="620" y="378" width="1" height="2" fill="#0a7a14"/>
<rect x="625" y="378" width="1" height="8" fill="#0a7a14"/>
<rect x="630" y="378" width="1" height="9" fill="#0a7a14"/>
<rect x="635" y="378" width="1" height="8" fill="#0a7a14"/>
<rect x="640" y="378" width="1" height="8" fill="#0a7a14"/>
<rect x="645" y="378" width="1" height="6" fill="#0a7a14"/>
<rect x="650" y="378" width="1" height="5" fill="#0a7a14"/>
<rect x="655" y="378" width="1" height="2" fill="#0a7a14"/>
<rect x="660" y="378" width="1" height="1" fill="#0a7a14"/>
<rect x="669" y="378" width="1" height="1" fill="#c8141e"/>
<rect x="674" y="376" width="1" height="3" fill="#c8141e"/>
<rect x="679" y="371" width="1" height="8" fill="#c8141e"/>
<rect x="684" y="368" width="1" height="11" fill="#c8141e"/>
<rect x="689" y="367" width="1" height="12" fill="#c8141e"/>
<rect x="694" y="368" width="1" height="11" fill="#c8141e"/>
<rect x="699" y="369" width="1" height="10" fill="#c8141e"/>
<rect x="704" y="369" width="1" height="10" fill="#c8141e"/>
<rect x="709" y="370" width="1" height="9" fill="#c8141e"/>
<rect x="714" y="371" width="1" height="8" fill="#c8141e"/>
<rect x="719" y="372" width="1" height="7" fill="#c8141e"/>
<rect x="724" y="374" width="1" height="5" fill="#c8141e"/>
<rect x="729" y="376" width="1" height="3" fill="#c8141e"/>
<rect x="734" y="378" width="1" height="1" fill="#c8141e"/>
<rect x="744" y="378" width="1" height="1" fill="#0a7a14"/>
<rect x="748" y="378" width="1" height="2" fill="#0a7a14"/>
<rect x="753" y="378" width="1" height="3" fill="#0a7a14"/>
<rect x="758" y="378" width="1" height="4" fill="#0a7a14"/>
</g>
<polyline fill="none" stroke="#0a0a90" stroke-width="1.0" shape-rendering="crispEdges"  points="72.5,361.7 82.2,363.2 99.7,364.5 109.6,367.2 124.6,368.6 143.3,368.6 153.3,369.5 174.0,370.3 181.5,371.7 186.5,372.9 194.0,371.7 201.4,370.5 216.4,370.5 227.6,371.7 236.3,375.1 248.8,380.7 261.3,386.9 268.8,389.4 277.5,392.1 282.0,392.9 287.0,393.2 294.5,395.9 306.9,399.6 314.4,401.5 319.4,402.4 323.1,402.4 329.4,400.6 336.9,400.6 351.8,399.6 359.3,399.0 369.3,396.1 380.5,393.7 390.0,392.0 402.5,387.5 414.9,382.5 427.4,379.7 439.9,376.9 449.9,376.9 459.8,374.2 469.8,372.2 477.3,371.7 482.3,370.1 489.8,370.1 498.0,367.9 504.2,367.4 510.5,365.9 529.2,365.9 535.4,367.4 545.4,367.2 550.4,365.9 562.8,365.9 572.8,364.7 585.3,364.0 590.3,362.5 606.0,362.5 621.0,362.5 630.9,365.6 643.4,368.1 655.9,369.3 670.8,368.7 680.8,367.4 693.3,363.7 702.5,361.2 714.5,357.6 727.4,355.8 739.9,355.8 748.6,357.7 761.7,359.0"/>
<polyline fill="none" stroke="#101010" stroke-width="1.0" shape-rendering="crispEdges"  points="72.5,361.7 81.0,364.2 97.2,365.7 103.4,368.2 110.9,370.5 123.4,370.5 125.9,368.8 143.3,368.8 150.8,370.5 155.8,369.5 168.2,369.5 174.0,372.3 180.2,375.1 186.5,373.2 199.0,371.0 203.9,369.5 212.7,369.5 215.1,370.5 222.6,372.6 228.9,376.9 236.3,381.9 243.8,386.9 251.3,392.5 260.0,395.9 273.8,396.3 277.5,397.5 282.0,397.0 288.2,397.8 295.7,401.5 302.0,404.6 306.9,405.5 313.2,405.5 318.2,404.6 324.4,402.4 329.4,399.9 336.9,399.0 354.3,398.4 361.8,395.3 368.0,391.5 376.8,389.4 384.2,388.2 390.0,385.9 402.5,379.7 412.4,376.3 426.2,376.3 434.9,376.3 442.4,374.7 449.9,374.4 457.3,371.3 464.8,370.1 474.8,367.6 488.5,367.6 498.0,365.3 503.0,364.7 509.2,364.7 511.7,365.6 527.9,365.6 532.9,367.4 539.1,368.1 547.9,366.4 554.1,364.7 564.1,364.7 574.1,363.7 580.3,363.5 587.8,360.6 592.8,360.6 596.5,361.8 606.0,362.5 617.2,362.5 622.2,365.6 628.4,369.9 637.2,370.6 638.4,371.4 652.1,371.4 654.6,369.9 660.9,368.9 670.8,368.7 675.8,365.6 685.8,360.0 693.3,357.5 700.8,355.7 707.5,354.3 726.2,354.2 737.4,355.2 746.1,357.7 757.3,360.2 761.7,361.4"/>
<path d="M309.5 210 L329.7 204.3" fill="none" stroke="#0a0a90" stroke-width="1" shape-rendering="crispEdges"/>
<path d="M709.5 66.3 L712 66.3 L728.6 71.2" fill="none" stroke="#0a0a90" stroke-width="1" shape-rendering="crispEdges"/>
<text x="71" y="10.8" font-family="'Liberation Sans',sans-serif" font-size="9.5" fill="#9a9a9a" textLength="20.6" lengthAdjust="spacingAndGlyphs">03-01</text>
<text x="127.5" y="10.8" font-family="'Liberation Sans',sans-serif" font-size="9.5" fill="#9a9a9a" textLength="20.6" lengthAdjust="spacingAndGlyphs">03-21</text>
<text x="196" y="10.8" font-family="'Liberation Sans',sans-serif" font-size="9.5" fill="#9a9a9a" textLength="20.6" lengthAdjust="spacingAndGlyphs">04-12</text>
<text x="265.5" y="10.8" font-family="'Liberation Sans',sans-serif" font-size="9.5" fill="#9a9a9a" textLength="20.6" lengthAdjust="spacingAndGlyphs">05-03</text>
<text x="335" y="10.8" font-family="'Liberation Sans',sans-serif" font-size="9.5" fill="#9a9a9a" textLength="20.6" lengthAdjust="spacingAndGlyphs">05-23</text>
<text x="404" y="10.8" font-family="'Liberation Sans',sans-serif" font-size="9.5" fill="#9a9a9a" textLength="20.6" lengthAdjust="spacingAndGlyphs">06-14</text>
<text x="473.5" y="10.8" font-family="'Liberation Sans',sans-serif" font-size="9.5" fill="#9a9a9a" textLength="20.6" lengthAdjust="spacingAndGlyphs">07-04</text>
<text x="542" y="10.8" font-family="'Liberation Sans',sans-serif" font-size="9.5" fill="#9a9a9a" textLength="20.6" lengthAdjust="spacingAndGlyphs">07-24</text>
<text x="611" y="10.8" font-family="'Liberation Sans',sans-serif" font-size="9.5" fill="#9a9a9a" textLength="20.6" lengthAdjust="spacingAndGlyphs">08-11</text>
<text x="680.5" y="10.8" font-family="'Liberation Sans',sans-serif" font-size="9.5" fill="#9a9a9a" textLength="20.6" lengthAdjust="spacingAndGlyphs">08-31</text>
<text x="749.5" y="10.8" font-family="'Liberation Sans',sans-serif" font-size="9.5" fill="#9a9a9a" textLength="20.6" lengthAdjust="spacingAndGlyphs">09-20</text>
<text x="818" y="10.8" font-family="'Liberation Sans',sans-serif" font-size="9.5" fill="#9a9a9a" textLength="20.6" lengthAdjust="spacingAndGlyphs">10-10</text>
<text transform="translate(140.8,26.7) scale(0.883,1)" font-family="'Liberation Sans',sans-serif" font-size="12" fill="#b01020">Tp=3479.2753</text>
<text transform="translate(219.6,26.7) scale(0.883,1)" font-family="'Liberation Sans',sans-serif" font-size="12" fill="#000090">Up=3387.8280</text>
<text transform="translate(298.8,26.7) scale(0.883,1)" font-family="'Liberation Sans',sans-serif" font-size="12" fill="#000">Md=3284.1275</text>
<text transform="translate(376.8,26.7) scale(0.883,1)" font-family="'Liberation Sans',sans-serif" font-size="12" fill="#000090">Dn=3144.7247</text>
<text transform="translate(456.2,26.7) scale(0.883,1)" font-family="'Liberation Sans',sans-serif" font-size="12" fill="#b01020">Bt=3018.3444</text>
<text transform="translate(75.3,350.7) scale(0.883,1)" font-family="'Liberation Sans',sans-serif" font-size="12" fill="#000">DIF=32.49</text>
<text transform="translate(145.8,350.7) scale(0.883,1)" font-family="'Liberation Sans',sans-serif" font-size="12" fill="#000090">DEA=33.49</text>
<text transform="translate(218,350.7) scale(0.84,1)" font-family="'Liberation Sans',sans-serif" font-size="12" fill="#c020c0">MACD=-2.01</text>
<text x="329.7" y="207.6" font-family="'Liberation Sans',sans-serif" font-size="11.5" fill="#2020a0" letter-spacing="0.55">3016.5300</text>
<text x="729.9" y="82.4" font-family="'Liberation Sans',sans-serif" font-size="11.5" fill="#2020a0" letter-spacing="0.55">3390.8201</text>
<text x="13.68 19.68 25.68 31.68 39.14 43.68 49.68 55.68 61.68" y="65.8" font-family="'Liberation Sans',sans-serif" font-size="10.5" fill="#4a4a4a">3400.3900</text>
<text x="13.68 19.68 25.68 31.68 39.14 43.68 49.68 55.68 61.68" y="184.8" font-family="'Liberation Sans',sans-serif" font-size="10.5" fill="#4a4a4a">3091.2636</text>
<text x="13.68 19.68 25.68 31.68 39.14 43.68 49.68 55.68 61.68" y="286.8" font-family="'Liberation Sans',sans-serif" font-size="10.5" fill="#4a4a4a">2810.2396</text>
<text x="13.68 19.68 25.68 31.68 37.68 43.68 49.68 55.68 61.68" y="304.8" font-family="'Liberation Sans',sans-serif" font-size="10.5" fill="#4a4a4a">211873196</text>
<text x="13.68 19.68 25.68 31.68 37.68 43.68 49.68 55.68 61.68" y="316.7" font-family="'Liberation Sans',sans-serif" font-size="10.5" fill="#4a4a4a">141248797</text>
<text x="19.68 25.68 31.68 37.68 43.68 49.68 55.68 61.68" y="328.8" font-family="'Liberation Sans',sans-serif" font-size="10.5" fill="#4a4a4a">70624399</text>
<text x="37.68 43.68 51.14 55.68 61.68" y="358.3" font-family="'Liberation Sans',sans-serif" font-size="10.5" fill="#4a4a4a">36.96</text>
<text x="37.68 43.68 51.14 55.68 61.68" y="371.3" font-family="'Liberation Sans',sans-serif" font-size="10.5" fill="#4a4a4a">17.19</text>
<text x="38.85 43.68 51.14 55.68 61.68" y="383.8" font-family="'Liberation Sans',sans-serif" font-size="10.5" fill="#4a4a4a">-2.58</text>
<text x="32.85 37.68 43.68 51.14 55.68 61.68" y="396.8" font-family="'Liberation Sans',sans-serif" font-size="10.5" fill="#4a4a4a">-22.36</text>
<text x="765.4" y="26" font-family="'Liberation Serif',serif" font-size="14" fill="#000090" textLength="39" lengthAdjust="spacingAndGlyphs">1A0001</text>
<text transform="translate(2.6,351) scale(0.74,1)" font-family="'Liberation Serif',serif" font-size="13" fill="#0000c0" stroke="#0000c0" stroke-width="0.35">MACD</text>
<text transform="translate(15,18.1) scale(0.62,1)" font-family="'Liberation Serif',serif" font-size="13" font-weight="bold" fill="#000090">K</text>
<text x="2.3" y="18.8" font-family="'Liberation Sans','Noto Sans CJK SC',sans-serif" font-size="13" fill="#000090">日</text>
<text x="22.3" y="18.8" font-family="'Liberation Sans','Noto Sans CJK SC',sans-serif" font-size="13" fill="#000090">线</text>
<text x="70.2 83.0 95.8 108.6" y="26" font-family="'Liberation Sans','Noto Sans CJK SC',sans-serif" font-size="13" fill="#000">极反通道</text>
<text x="813.3 825.9 838.5 851.1" y="26" font-family="'Liberation Sans','Noto Sans CJK SC',sans-serif" font-size="13" fill="#000090">上证指数</text>
<defs><filter id="gl" x="-20%" y="-50%" width="140%" height="200%"><feGaussianBlur stdDeviation="2.2"/></filter>
<path id="ring" d="M 811.4 371.8 A 26.6 26.6 0 1 0 864.6 371.8 A 26.6 26.6 0 1 0 811.4 371.8"/></defs>
<rect x="762" y="339" width="102" height="68" fill="#fff"/>
<circle cx="792.7" cy="371.5" r="29.0" fill="#19e383" stroke="#0a62c8" stroke-width="2"/>
<path d="M792.7 343.5 L820.7 371.5 L792.7 399.5 L764.7 371.5Z" fill="#ffd21e" stroke="#3a3a10" stroke-width="1"/>
<path d="M792.7 344.5 L809.7 362.5 L792.7 362.5Z" fill="#ffbc1c"/>
<path d="M792.7 398.5 L809.7 380.5 L792.7 380.5Z" fill="#ffbc1c"/>
<path d="M776 351 L776 393 L811 372Z" fill="#ff8a8a" opacity="0.9"/>
<path d="M776 350 L782.5 354 L777 358Z" fill="#e01010"/><path d="M776 390 L782.5 390.5 L777.5 395Z" fill="#e01010"/>
<line x1="793.1" x2="793.1" y1="343.5" y2="399.5" stroke="#2a2a10" stroke-width="1"/>
<text font-family="'Liberation Sans',sans-serif" font-size="8" fill="#111" textLength="165" lengthAdjust="spacing"><textPath href="#ring" startOffset="0">8901234567890123456789012345678901234</textPath></text>
<rect x="771" y="364" width="84" height="17" rx="8" fill="#fff" opacity="0.97" filter="url(#gl)"/>
<text x="771.5" y="379" font-family="'Liberation Serif',serif" font-size="25" font-weight="bold" font-style="italic" fill="#0a10c8" textLength="52.5" lengthAdjust="spacingAndGlyphs">gann</text>
<text x="825.3" y="378" font-family="'Liberation Sans',sans-serif" font-size="16.5" font-weight="bold" fill="#e00a14" textLength="26.8" lengthAdjust="spacingAndGlyphs">360</text>
</svg></body></html>
